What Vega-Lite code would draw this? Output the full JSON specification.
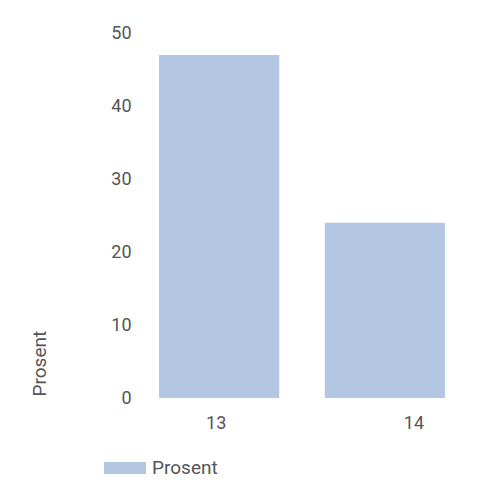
{
  "$schema": "https://vega.github.io/schema/vega-lite/v6.json",
  "width": 334,
  "height": 365,
  "padding": {"left": 135, "top": 33, "right": 31, "bottom": 102},
  "autosize": {"type": "none"},
  "config": {
    "view": {"stroke": null},
    "font": "Roboto",
    "text": {"font": "Roboto"}
  },
  "data": {
    "values": [
      {"category": "13", "value": 47, "series": "Prosent"},
      {"category": "14", "value": 24, "series": "Prosent"}
    ]
  },
  "mark": {"type": "bar"},
  "encoding": {
    "x": {
      "field": "category",
      "type": "nominal",
      "scale": {"paddingInner": 0.275, "paddingOuter": 0.145},
      "axis": {
        "title": null,
        "labelAngle": 0,
        "domain": false,
        "ticks": false,
        "labelFont": "Roboto",
        "labelFontSize": 18,
        "labelColor": "#555555",
        "labelPadding": 16,
        "labelOffset": {"condition": {"test": "datum.value == '14'", "value": 29}, "value": -3}
      }
    },
    "y": {
      "field": "value",
      "type": "quantitative",
      "scale": {"domain": [0, 50]},
      "axis": {
        "title": "Prosent",
        "values": [0, 10, 20, 30, 40, 50],
        "grid": false,
        "domain": false,
        "ticks": false,
        "labelFont": "Roboto",
        "labelFontSize": 18,
        "labelColor": "#555555",
        "labelPadding": 4,
        "titleFont": "Roboto",
        "titleFontSize": 19,
        "titleFontWeight": "normal",
        "titleColor": "#555555",
        "titleAnchor": "start",
        "titleX": -86,
        "titleY": 363
      }
    },
    "color": {
      "field": "series",
      "type": "nominal",
      "scale": {"range": ["#b3c7e2"]},
      "legend": {
        "title": null,
        "orient": "none",
        "legendX": -31,
        "legendY": 414,
        "symbolType": "M-1,-0.28L1,-0.28L1,0.28L-1,0.28Z",
        "symbolSize": 1764,
        "symbolStrokeWidth": 0,
        "labelFont": "Roboto",
        "labelFontSize": 19,
        "labelColor": "#555555",
        "labelOffset": 6
      }
    }
  }
}
